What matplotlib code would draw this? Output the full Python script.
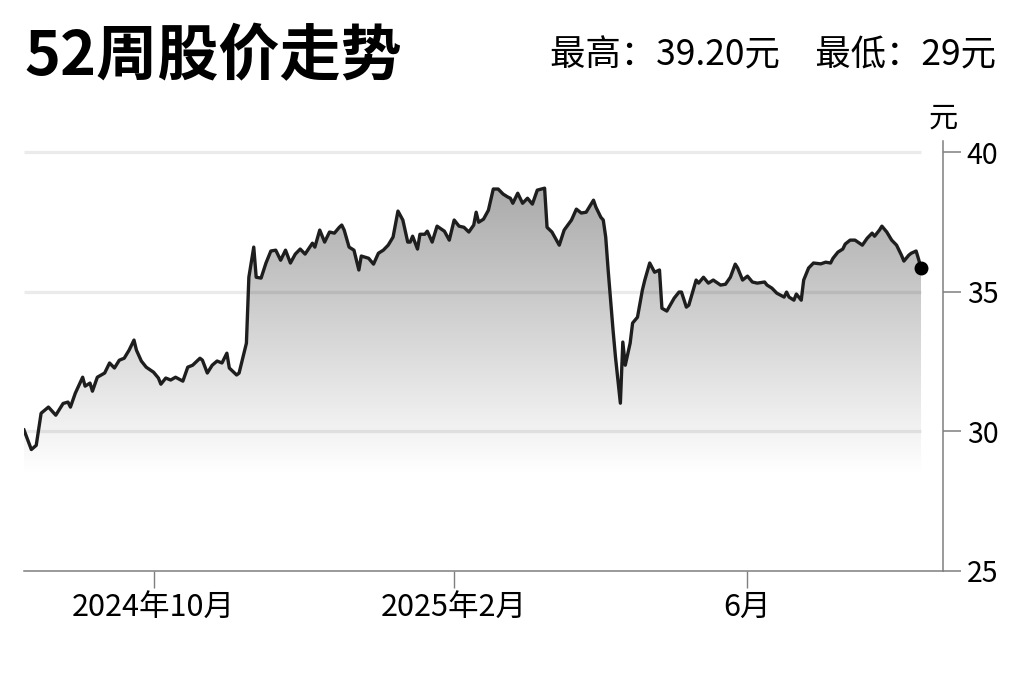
import numpy as np
import pandas as pd
import matplotlib
matplotlib.use('Agg')
import matplotlib.pyplot as plt
import matplotlib.dates as mdates
from matplotlib.colors import LinearSegmentedColormap

plt.rcParams['font.family'] = ['Noto Sans CJK SC', 'DejaVu Sans']

# Prices (yuan)
dates = [
    '2024-08-09', '2024-08-12', '2024-08-14', '2024-08-16', '2024-08-19', '2024-08-22',
    '2024-08-25', '2024-08-27', '2024-08-28', '2024-08-30', '2024-09-02', '2024-09-03',
    '2024-09-05', '2024-09-06', '2024-09-08', '2024-09-11', '2024-09-13', '2024-09-15',
    '2024-09-17', '2024-09-19', '2024-09-21', '2024-09-23', '2024-09-24', '2024-09-26',
    '2024-09-28', '2024-10-01', '2024-10-03', '2024-10-04', '2024-10-06', '2024-10-08',
    '2024-10-10', '2024-10-13', '2024-10-15', '2024-10-17', '2024-10-20', '2024-10-21',
    '2024-10-23', '2024-10-25', '2024-10-27', '2024-10-29', '2024-10-31', '2024-11-01',
    '2024-11-04', '2024-11-05', '2024-11-08', '2024-11-09', '2024-11-11', '2024-11-12',
    '2024-11-14', '2024-11-16', '2024-11-18', '2024-11-20', '2024-11-22', '2024-11-24',
    '2024-11-26', '2024-11-28', '2024-11-30', '2024-12-02', '2024-12-05', '2024-12-06',
    '2024-12-08', '2024-12-10', '2024-12-12', '2024-12-14', '2024-12-16', '2024-12-17',
    '2024-12-18', '2024-12-20', '2024-12-22', '2024-12-24', '2024-12-25', '2024-12-28',
    '2024-12-30', '2025-01-01', '2025-01-03', '2025-01-05', '2025-01-07', '2025-01-09',
    '2025-01-11', '2025-01-13', '2025-01-14', '2025-01-15', '2025-01-17', '2025-01-18',
    '2025-01-20', '2025-01-21', '2025-01-23', '2025-01-25', '2025-01-28', '2025-01-30',
    '2025-02-01', '2025-02-03', '2025-02-05', '2025-02-07', '2025-02-09', '2025-02-10',
    '2025-02-11', '2025-02-13', '2025-02-15', '2025-02-17', '2025-02-19', '2025-02-21',
    '2025-02-23', '2025-02-24', '2025-02-25', '2025-02-27', '2025-03-01', '2025-03-03',
    '2025-03-05', '2025-03-07', '2025-03-10', '2025-03-11', '2025-03-13', '2025-03-16',
    '2025-03-18', '2025-03-21', '2025-03-23', '2025-03-25', '2025-03-27', '2025-03-30',
    '2025-03-31', '2025-04-02', '2025-04-03', '2025-04-04', '2025-04-05', '2025-04-07',
    '2025-04-08', '2025-04-10', '2025-04-11', '2025-04-12', '2025-04-14', '2025-04-15',
    '2025-04-17', '2025-04-19', '2025-04-20', '2025-04-22', '2025-04-24', '2025-04-26',
    '2025-04-27', '2025-04-29', '2025-05-02', '2025-05-04', '2025-05-05', '2025-05-07',
    '2025-05-08', '2025-05-11', '2025-05-12', '2025-05-14', '2025-05-16', '2025-05-18',
    '2025-05-21', '2025-05-23', '2025-05-25', '2025-05-27', '2025-05-28', '2025-05-30',
    '2025-06-01', '2025-06-03', '2025-06-05', '2025-06-08', '2025-06-09', '2025-06-11',
    '2025-06-13', '2025-06-16', '2025-06-17', '2025-06-18', '2025-06-20', '2025-06-21',
    '2025-06-23', '2025-06-24', '2025-06-26', '2025-06-28', '2025-07-01', '2025-07-03',
    '2025-07-05', '2025-07-06', '2025-07-08', '2025-07-10', '2025-07-11', '2025-07-13',
    '2025-07-15', '2025-07-18', '2025-07-20', '2025-07-22', '2025-07-23', '2025-07-25',
    '2025-07-26', '2025-07-28', '2025-07-30', '2025-08-01', '2025-08-03', '2025-08-04',
    '2025-08-06', '2025-08-07', '2025-08-09', '2025-08-10', '2025-08-11',
]
prices = [
    30.05, 29.35, 29.50, 30.65, 30.87, 30.58,
    31.00, 31.05, 30.87, 31.37, 31.94, 31.62,
    31.73, 31.44, 31.94, 32.09, 32.45, 32.27,
    32.55, 32.62, 32.91, 33.27, 32.91, 32.52,
    32.30, 32.12, 31.91, 31.69, 31.91, 31.84,
    31.94, 31.80, 32.30, 32.37, 32.62, 32.55,
    32.09, 32.37, 32.52, 32.45, 32.80, 32.27,
    32.02, 32.09, 33.16, 35.52, 36.60, 35.52,
    35.49, 36.03, 36.46, 36.49, 36.13, 36.49,
    36.03, 36.35, 36.53, 36.35, 36.74, 36.60,
    37.21, 36.78, 37.14, 37.10, 37.31, 37.39,
    37.21, 36.60, 36.49, 35.78, 36.28, 36.20,
    35.99, 36.38, 36.49, 36.67, 36.96, 37.89,
    37.57, 36.78, 36.78, 36.99, 36.53, 37.06,
    37.06, 37.17, 36.78, 37.35, 37.17, 36.85,
    37.57, 37.35, 37.31, 37.14, 37.39, 37.85,
    37.49, 37.60, 37.92, 38.68, 38.68, 38.50,
    38.39, 38.35, 38.17, 38.53, 38.17, 38.35,
    38.14, 38.64, 38.71, 37.31, 37.14, 36.67,
    37.21, 37.57, 37.96, 37.82, 37.85, 38.28,
    38.03, 37.67, 37.57, 36.96, 35.78, 33.63,
    32.66, 31.01, 33.20, 32.37, 33.16, 33.88,
    34.09, 35.06, 35.42, 36.03, 35.70, 35.78,
    34.41, 34.31, 34.77, 34.99, 34.99, 34.45,
    34.52, 35.42, 35.31, 35.52, 35.31, 35.42,
    35.24, 35.27, 35.52, 35.99, 35.85, 35.42,
    35.56, 35.35, 35.31, 35.35, 35.24, 35.13,
    34.95, 34.81, 34.99, 34.81, 34.70, 34.92,
    34.70, 35.42, 35.85, 36.03, 36.00, 36.06,
    36.03, 36.20, 36.42, 36.53, 36.71, 36.85,
    36.85, 36.67, 36.92, 37.10, 36.99, 37.21,
    37.35, 37.14, 36.85, 36.67, 36.31, 36.10,
    36.31, 36.38, 36.46, 36.17, 35.85,
]

x_tick_dates = ['2024-10-01', '2025-02-01', '2025-06-01']
x_tick_labels = ['2024年10月', '2025年2月', '6月']
y_ticks = [25, 30, 35, 40]
grid_levels = [30, 35, 40]
title = '52周股价走势'
subtitle = '最高：39.20元　最低：29元'
unit = '元'

xn = mdates.date2num(pd.to_datetime(dates))
prices = np.array(prices)

fig = plt.figure(figsize=(10.24, 6.82), dpi=100)
ax = fig.add_axes([24 / 1024, 111 / 682, (943 - 24) / 1024, (571 - 141) / 682])

# gradient area under the line
fill = ax.fill_between(xn, prices, 25, facecolor='none', lw=0)
cmap = LinearSegmentedColormap.from_list('grey_fade', ['#ffffff', '#a8a8a8'])
grad = np.linspace(0, 1, 256).reshape(-1, 1)
im = ax.imshow(grad, extent=[xn[0], xn[-1], 28.5, 39.0], origin='lower',
               aspect='auto', cmap=cmap, zorder=1, interpolation='bilinear')
im.set_clip_path(fill.get_paths()[0], transform=ax.transData)

ax.hlines(grid_levels, xn[0], xn[-1], colors=[(0, 0, 0, 0.08)], lw=2.4, zorder=2)
ax.plot(xn, prices, color='#1e1e1e', lw=2.4, zorder=3, solid_joinstyle='round')
ax.plot(xn[-1], prices[-1], 'o', color='black', ms=9, zorder=4)

ax.set_xlim(mdates.date2num(pd.Timestamp('2024-08-09')),
            mdates.date2num(pd.Timestamp('2025-08-20')))
ax.set_ylim(25, 40.4)

for s in ['top', 'left']:
    ax.spines[s].set_visible(False)
for s in ['right', 'bottom']:
    ax.spines[s].set_color('#7f7f7f')
    ax.spines[s].set_linewidth(1.1)

ax.yaxis.tick_right()
ax.set_yticks(y_ticks)
ax.tick_params(axis='y', length=13, width=1.1, color='#7f7f7f', labelsize=20.5, pad=4)
ax.set_xticks(mdates.date2num(pd.to_datetime(x_tick_dates)))
ax.set_xticklabels(x_tick_labels)
ax.tick_params(axis='x', length=12, width=1.0, color='#7f7f7f', labelsize=22, pad=3)

fig.text(943 / 1024, 1 - 119 / 682, unit, ha='center', va='center', fontsize=21)
fig.text(24 / 1024, 1 - 75 / 682, title, ha='left', va='baseline',
         fontsize=44, fontweight='heavy')
fig.text(996 / 1024, 1 - 65 / 682, subtitle, ha='right', va='baseline', fontsize=25.5)

fig.savefig('out.png', dpi=100, facecolor='white')
